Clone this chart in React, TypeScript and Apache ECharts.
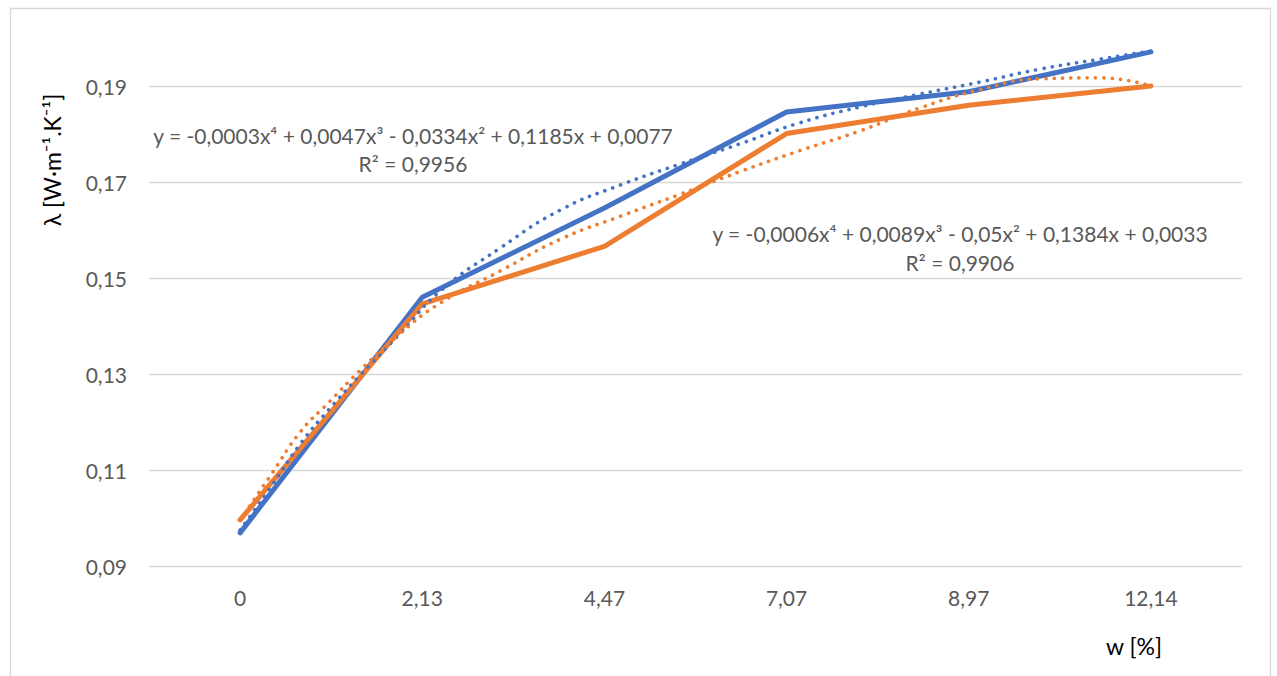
import React, { useEffect, useRef } from "react";
import * as echarts from "echarts";

const categories = ["0", "2,13", "4,47", "7,07", "8,97", "12,14"];
const blueValues = [0.0969, 0.146, 0.1646, 0.1846, 0.1888, 0.1971];
const orangeValues = [0.0996, 0.1446, 0.1566, 0.1801, 0.186, 0.19];

// trend lines, x = category position (1..6)
const trendX = [1, 1.17, 1.33, 1.49, 1.66, 1.88, 2.1, 2.43, 2.76, 3.09, 3.42, 3.74, 4.07, 4.4, 4.73, 5.06, 5.39, 5.72, 6];
const blueTrend = [0.0975, 0.1065, 0.1154, 0.1227, 0.1298, 0.1385, 0.1473, 0.1563, 0.1642, 0.1694, 0.1738, 0.1779, 0.1823, 0.1856, 0.1883, 0.1908, 0.1935, 0.1956, 0.1973];
const orangeTrend = [0.0996, 0.109, 0.1179, 0.1242, 0.1308, 0.1385, 0.1448, 0.1515, 0.1581, 0.1629, 0.1675, 0.1721, 0.1765, 0.1806, 0.1854, 0.1892, 0.1915, 0.1917, 0.19];

const blueEquation = "y = -0,0003x⁴ + 0,0047x³ - 0,0334x² + 0,1185x + 0,0077";
const blueR2 = "R² = 0,9956";
const orangeEquation = "y = -0,0006x⁴ + 0,0089x³ - 0,05x² + 0,1384x + 0,0033";
const orangeR2 = "R² = 0,9906";
const yName = "λ [W·m⁻¹.K⁻¹]";
const xName = "w [%]";

const FONT = "Lato";
const BLUE = "#4472C4";
const ORANGE = "#ED7D31";
const GREY_TEXT = "#595959";

export default function App() {
  const ref = useRef<HTMLDivElement>(null);
  useEffect(() => {
    if (!ref.current) return;
    const chart = echarts.init(ref.current, null, { renderer: "svg" });
    const dotted = (color: string) => ({
      color,
      width: 3.6,
      type: [0.1, 8.2],
      cap: "round",
    });
    chart.setOption({
      animation: false,
      backgroundColor: "#fff",
      textStyle: { fontFamily: FONT },
      grid: { left: 149, right: 35, top: 38, bottom: 110, containLabel: false },
      xAxis: [
        {
          type: "category",
          data: categories,
          boundaryGap: true,
          axisLine: { show: false },
          axisTick: { show: false },
          axisLabel: { color: GREY_TEXT, fontSize: 21, margin: 21, fontFamily: FONT },
          splitLine: { show: false },
        },
        {
          type: "value",
          min: 0.5,
          max: 6.5,
          show: false,
          position: "bottom",
        },
      ],
      yAxis: {
        type: "value",
        min: 0.09,
        max: 0.2,
        interval: 0.01,
        axisLine: { show: false },
        axisTick: { show: false },
        axisLabel: {
          color: GREY_TEXT,
          fontSize: 21,
          margin: 22,
          fontFamily: FONT,
          formatter: (v: number) =>
            Math.round(v * 100) % 2 === 1 ? v.toFixed(2).replace(".", ",") : "",
        },
        splitLine: { show: true, lineStyle: { color: ["#d9d9d9", "rgba(0,0,0,0)"], width: 1.3 } },
      },
      series: [
        {
          type: "line",
          xAxisIndex: 1,
          data: trendX.map((x, i) => [x, blueTrend[i]]),
          smooth: true,
          showSymbol: false,
          lineStyle: dotted(BLUE),
          z: 3,
        },
        {
          type: "line",
          xAxisIndex: 1,
          data: trendX.map((x, i) => [x, orangeTrend[i]]),
          smooth: true,
          showSymbol: false,
          lineStyle: dotted(ORANGE),
          z: 3,
        },
        {
          type: "line",
          data: blueValues,
          showSymbol: false,
          lineStyle: { color: BLUE, width: 5, cap: "round", join: "round" },
          z: 2,
        },
        {
          type: "line",
          data: orangeValues,
          showSymbol: false,
          lineStyle: { color: ORANGE, width: 5, cap: "round", join: "round" },
          z: 2,
        },
      ],
      graphic: [
        {
          type: "rect",
          shape: { x: 10.5, y: 8.5, width: 1260, height: 700 },
          style: { fill: "none", stroke: "#d9d9d9", lineWidth: 1.3 },
          z: -1,
        },
        {
          type: "text",
          x: 413,
          y: 149,
          style: {
            text: blueEquation + "\n" + blueR2,
            fontSize: 21,
            fontFamily: FONT,
            fill: GREY_TEXT,
            align: "center",
            verticalAlign: "middle",
            lineHeight: 28,
          },
        },
        {
          type: "text",
          x: 960,
          y: 248,
          style: {
            text: orangeEquation + "\n" + orangeR2,
            fontSize: 21,
            fontFamily: FONT,
            fill: GREY_TEXT,
            align: "center",
            verticalAlign: "middle",
            lineHeight: 29,
          },
        },
        {
          type: "text",
          x: 52,
          y: 160,
          rotation: Math.PI / 2,
          style: {
            text: yName,
            fontSize: 23,
            fontFamily: FONT,
            fill: "#000",
            align: "center",
            verticalAlign: "middle",
          },
        },
        {
          type: "text",
          x: 1134,
          y: 646,
          style: {
            text: xName,
            fontSize: 23,
            fontFamily: FONT,
            fill: "#000",
            align: "center",
            verticalAlign: "middle",
          },
        },
      ],
    });
    return () => chart.dispose();
  }, []);
  return <div ref={ref} style={{ position: "fixed", left: 0, top: 0, width: 1277, height: 676 }} />;
}
